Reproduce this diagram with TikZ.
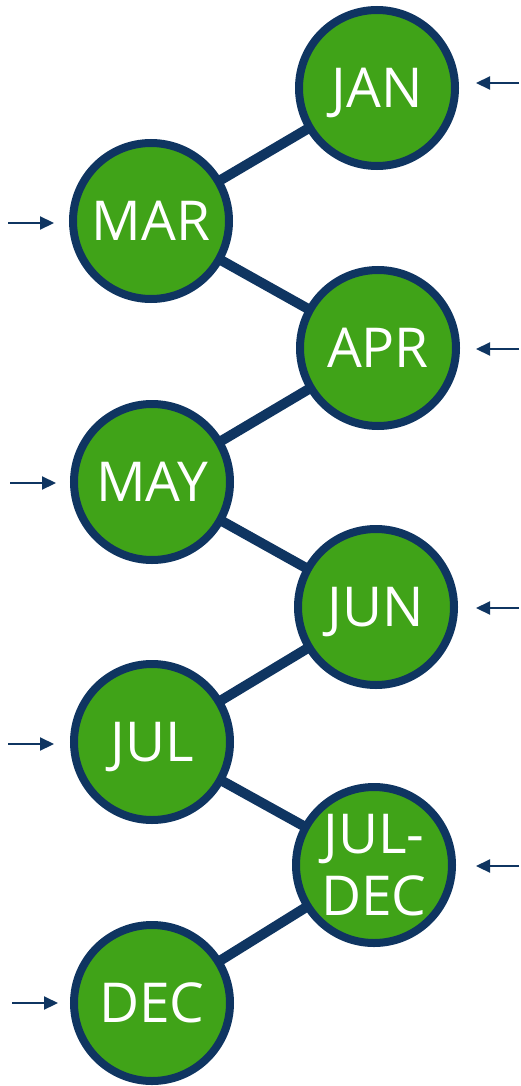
\documentclass[tikz,border=0pt]{standalone}
\usepackage{fontspec}
\setmainfont{Open Sans}
\usetikzlibrary{arrows.meta,backgrounds}
\definecolor{navy}{HTML}{0F3561}
\definecolor{leaf}{HTML}{40A318}
\tikzset{
  month/.style={circle,draw=navy,line width=8pt,fill=leaf,minimum size=156pt,
    inner sep=0pt,text=white,align=center,font=\fontsize{55}{62}\selectfont},
  link/.style={navy,line width=10pt},
  feed/.style={navy,line width=2.2pt,-{Triangle[length=14pt,width=13pt]}}
}
\begin{document}
\begin{tikzpicture}[x=1pt,y=-1pt]
  \useasboundingbox (0,0) rectangle (521,1086);

  % the months, zigzag down the page
  \foreach \n/\t/\x/\y in {jan/JAN/377/88, mar/MAR/151/221, apr/APR/378/348,
      may/MAY/152/482, jun/JUN/376/607, jul/JUL/152/742, dec/DEC/152/1003}{
    \node[month,text depth=0pt] (\n) at (\x,\y) {\t};
  }
  \node[month] (juldec) at (374,865) {JUL-\\DEC};

  % links between neighbours, kept behind the circles
  \begin{scope}[on background layer]
    \foreach \a/\b in {mar/jan, mar/apr, may/apr, may/jun, jul/jun,
        jul/juldec, dec/juldec}{
      \draw[link] (\a.center) -- (\b.center);
    }
  \end{scope}

  % small arrows coming in from the right
  \foreach \n/\y in {jan/83, apr/349, jun/608, juldec/866}{
    \coordinate (\n-src) at (519,\y);
    \coordinate (\n-tip) at (476,\y);
    \draw[feed] (\n-src) -- (\n-tip);
  }
  % ... and from the left
  \foreach \n/\x/\y in {mar/8/223, may/10/483, jul/8/744, dec/12/1003}{
    \coordinate (\n-src) at (\x,\y);
    \coordinate (\n-tip) at (\x+46,\y);
    \draw[feed] (\n-src) -- (\n-tip);
  }
\end{tikzpicture}
\end{document}
